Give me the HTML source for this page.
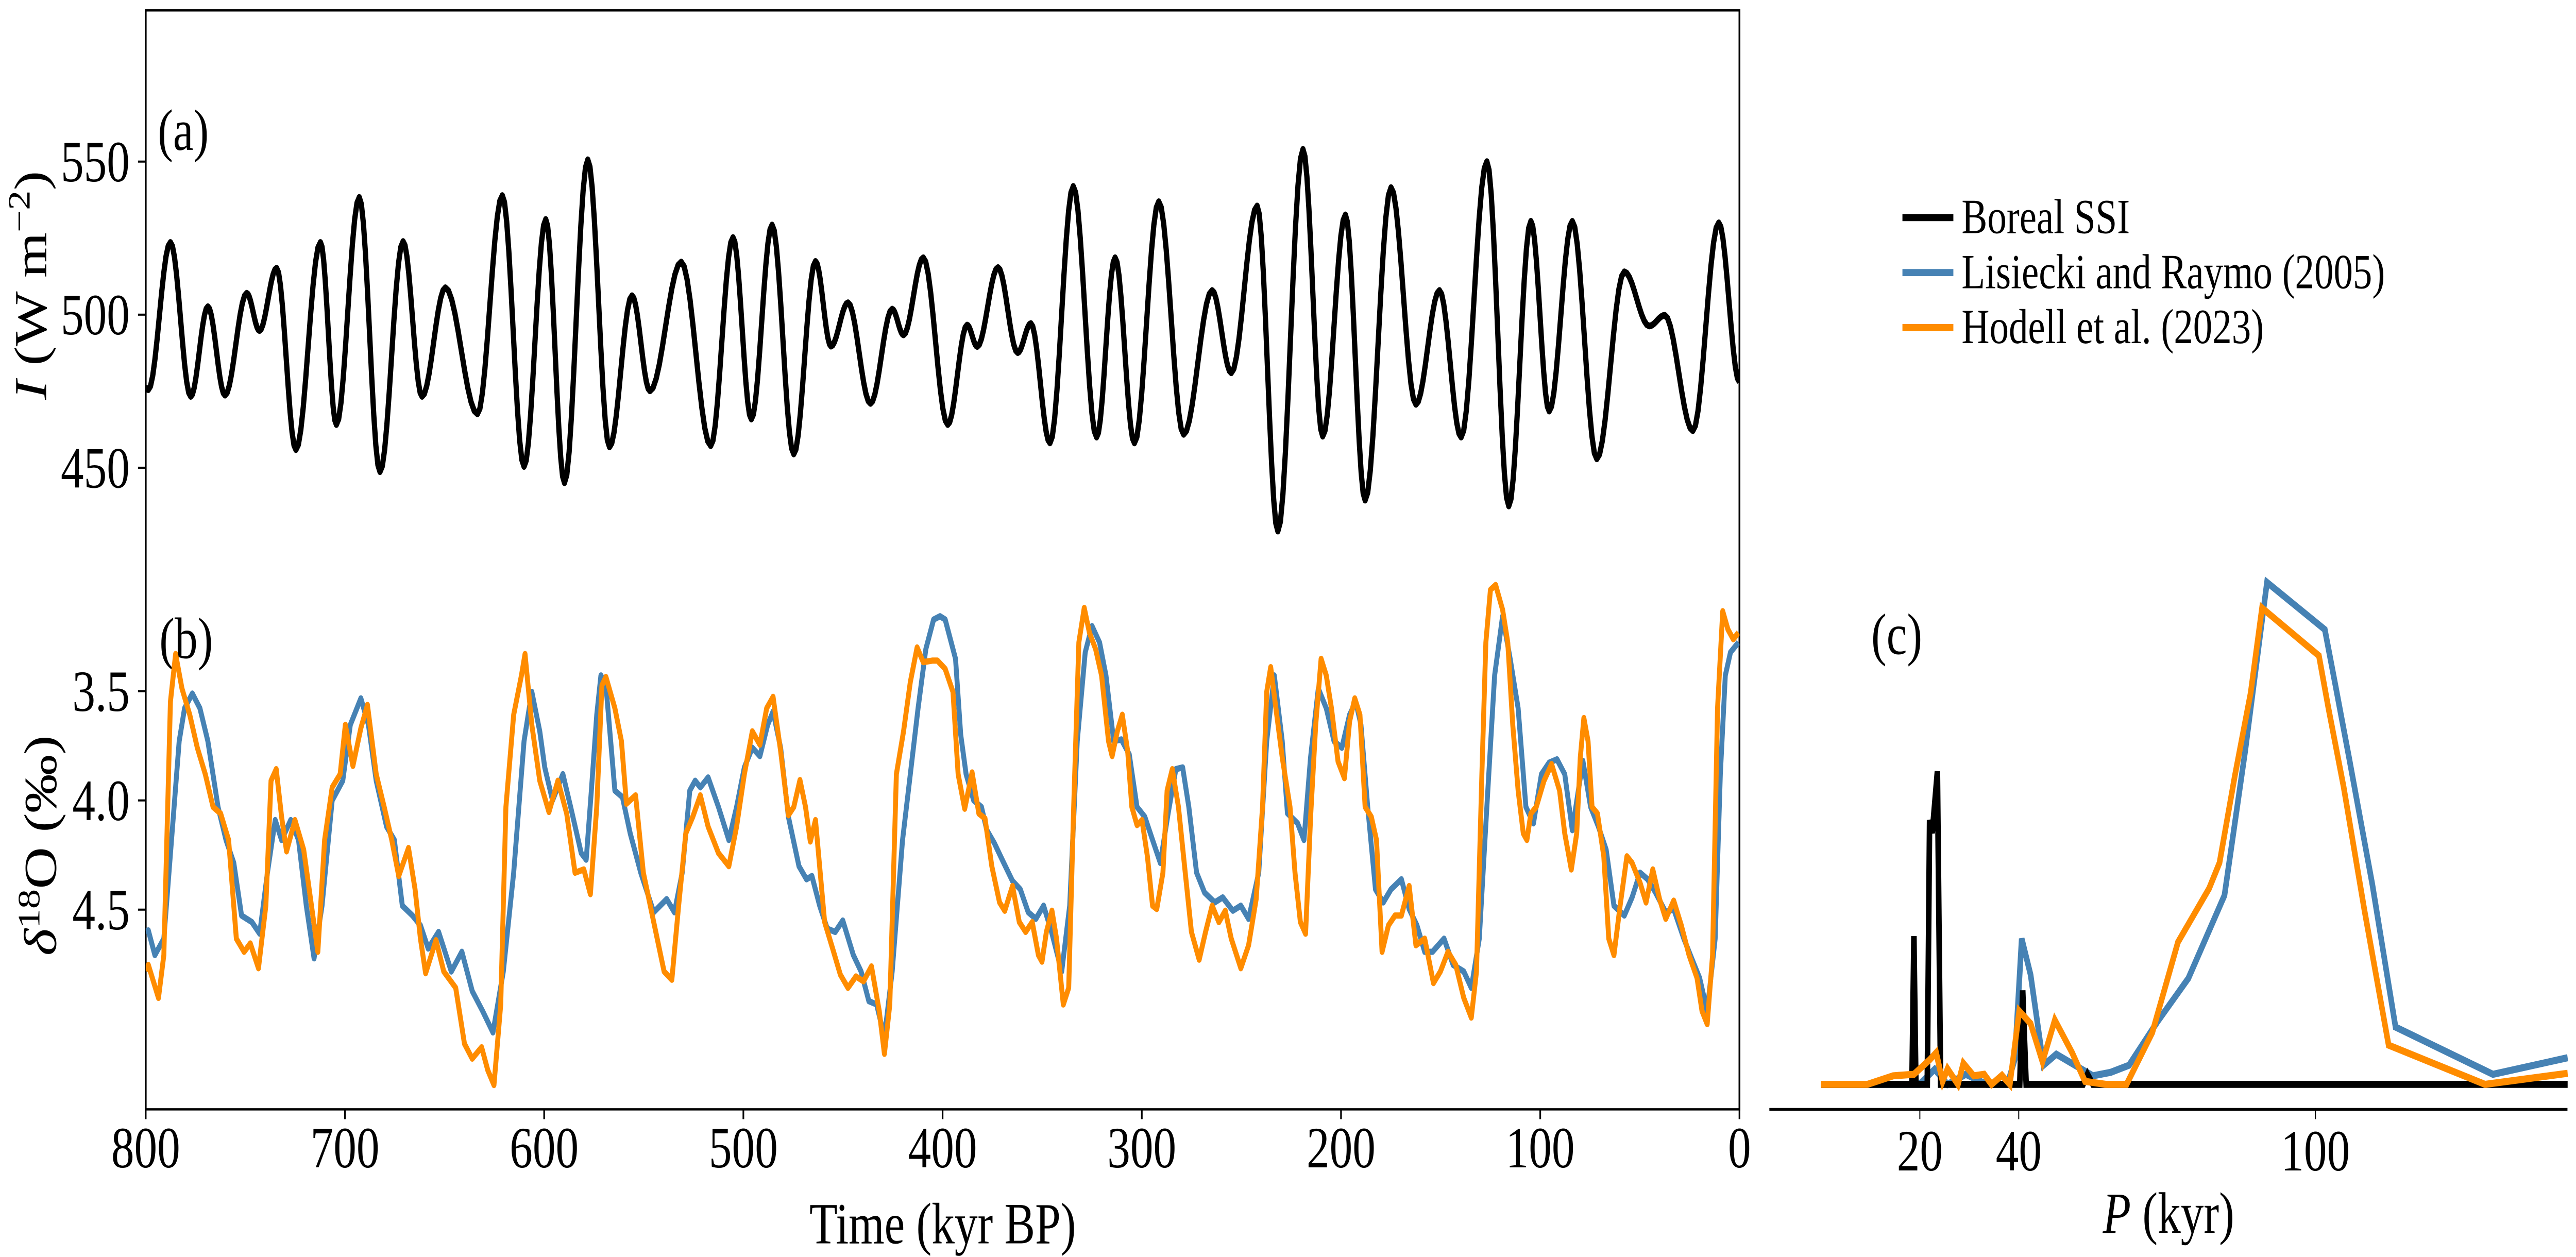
<!DOCTYPE html>
<html><head><meta charset="utf-8">
<style>
html,body{margin:0;padding:0;background:#fff;width:100%;height:100%;overflow:hidden;}
svg{display:block;width:100vw;height:100vh;}
text{font-family:"Liberation Serif",serif;fill:#000;}
</style></head><body>
<svg id="fig" xmlns="http://www.w3.org/2000/svg" viewBox="0 0 1568 603.6" preserveAspectRatio="none">
<defs><clipPath id="clipAB"><rect x="88.7" y="5" width="970.1" height="527.7"/></clipPath></defs>
<rect x="0" y="0" width="1568" height="603.6" fill="#fff"/>
<g id="gridA"></g>
<g id="gridC"></g>
<text x="96" y="72" font-size="28">(a)</text>
<text x="97" y="316" font-size="28">(b)</text>
<text x="1139" y="314" font-size="28">(c)</text>
<text transform="translate(28,137) rotate(-90)" text-anchor="middle" font-size="28"><tspan font-style="italic">I</tspan> (W m<tspan font-size="19" dy="-10">−2</tspan><tspan dy="10">)</tspan></text>
<text transform="translate(34,406) rotate(-90)" text-anchor="middle" font-size="28"><tspan font-style="italic">δ</tspan><tspan font-size="19" dy="-10">18</tspan><tspan dy="10">O (‰)</tspan></text>
<text x="573.8" y="597" text-anchor="middle" font-size="28">Time (kyr BP)</text>
<text x="1320" y="592" text-anchor="middle" font-size="28"><tspan font-style="italic">P</tspan> (kyr)</text>
<g>
<line x1="1158" y1="104.5" x2="1189" y2="104.5" stroke="#000" stroke-width="3.4"/>
<text x="1194" y="112" font-size="23.5">Boreal SSI</text>
<line x1="1158" y1="130.9" x2="1189" y2="130.9" stroke="#4682B4" stroke-width="3.4"/>
<text x="1194" y="138.4" font-size="23.5">Lisiecki and Raymo (2005)</text>
<line x1="1158" y1="157.3" x2="1189" y2="157.3" stroke="#FF8C00" stroke-width="3.4"/>
<text x="1194" y="164.8" font-size="23.5">Hodell et al. (2023)</text>
</g>
<g id="series" clip-path="url(#clipAB)"></g>
<g id="spec"></g>
</svg>
<script>
const timeTicks=[800,700,600,500,400,300,200,100,0];
const insolTicks=[450,500,550];
const d18oTicks=[3.5,4.0,4.5];
const periodTicks=[20,40,100];

const insolTime=[800,798.7,787.6,777.4,768.8,760.2,749.3,742.9,734.3,724.6,712.3,704.3,692.8,682.4,670.8,661.3,649.6,633.5,621.0,610.1,599.2,589.8,578.1,567.2,555.9,546.9,531.2,516.4,505.2,496.0,485.6,474.7,463.8,456.0,447.5,436.2,425.3,419.6,409.7,397.4,387.7,382.6,372.2,362.3,355.7,346.1,334.4,322.7,313.4,303.7,291.5,279.0,264.7,255.1,242.1,231.7,219.1,209.2,197.8,187.9,174.9,162.4,150.6,139.7,126.8,115.8,104.7,95.5,83.9,71.6,57.8,45.3,37.5,23.4,10.4,0];
const insolValue=[476,475.5,523.6,473.3,502.6,473.7,507,494.8,515.2,455.9,523.6,464.1,538.3,448.7,523.9,473.3,508.8,467.6,538.9,450.4,531.1,445.1,550.6,456.8,506.2,475.1,517.2,457.2,525.2,465.9,529.3,454.5,517.4,489.7,503.9,471,501.8,493.4,518.6,464.1,496.6,489.6,515.4,487.6,497.1,458.1,541.9,460,518.6,458.1,536.9,460.9,507.9,481,535.5,429.3,554,460.3,532.6,439.4,541.5,470.7,507.9,460,550,437.5,530.5,468.5,530.5,452.9,514,496.3,499.8,462.1,530,478];

const lrTime=[800,798.7,795.4,790.9,783.2,780.5,776.6,772.8,768.8,763.7,759.7,755.8,751.9,746.7,742.8,738.9,735.0,731.8,727.2,723.3,719.4,715.5,711.5,706.4,701.1,697.3,692.0,688.2,684.3,679.1,675.2,671.2,666.1,662.1,658.2,653.0,646.6,641.3,636.1,630.9,625.7,620.5,615.3,610.1,606.2,602.2,599.7,595.8,590.6,586.7,581.4,578.9,576.3,573.6,571.5,569.0,564.5,560.7,556.8,551.5,545.0,538.5,534.6,530.7,526.9,524.2,521.6,517.7,512.5,507.3,503.4,499.5,495.5,491.7,487.8,485.1,481.3,477.4,472.1,468.3,465.6,461.7,457.9,453.9,450.1,444.8,440.9,437.0,433.1,429.2,425.3,420.1,416.2,412.3,408.4,404.5,401.3,398.7,393.5,390.9,388.2,384.4,380.5,377.8,374.0,370.1,364.9,361.0,357.0,353.2,349.3,345.3,340.2,336.2,332.4,328.4,325.0,321.2,318.0,314.1,310.3,306.3,302.4,298.5,294.6,290.7,286.8,282.9,279.5,276.4,272.5,268.5,263.4,259.4,254.3,250.3,246.4,241.3,237.3,233.5,229.5,226.9,221.8,218.6,215.3,211.4,207.4,203.5,199.6,195.7,192.6,190.0,186.6,182.7,178.8,174.9,169.7,165.8,161.9,158.0,154.1,148.3,143.7,138.4,134.6,130.6,126.8,122.9,118.9,115.1,111.1,107.2,103.4,99.4,95.5,91.6,87.7,83.9,78.6,74.7,70.8,66.9,63.0,57.8,53.9,49.9,46.1,42.1,37.0,33.0,27.9,24.0,20.0,16.2,12.2,9.6,7.1,4.5,0.5];
const lrValue=[4.6,4.595,4.708,4.633,3.729,3.578,3.511,3.578,3.729,4.030,4.181,4.286,4.527,4.557,4.610,4.331,4.090,4.181,4.090,4.181,4.482,4.723,4.482,4.0,3.910,3.654,3.533,3.654,3.910,4.120,4.181,4.482,4.527,4.572,4.678,4.602,4.783,4.693,4.873,4.964,5.062,4.783,4.331,3.729,3.503,3.684,3.849,4.0,3.880,4.030,4.241,4.271,3.955,3.608,3.428,3.473,3.955,3.985,4.151,4.331,4.512,4.452,4.512,4.331,3.955,3.910,3.940,3.895,4.030,4.181,4.030,3.849,3.759,3.797,3.654,3.593,3.759,4.075,4.301,4.361,4.346,4.482,4.587,4.602,4.550,4.708,4.783,4.919,4.934,5.084,4.783,4.181,3.880,3.578,3.307,3.172,3.157,3.172,3.352,3.699,3.880,4.0,4.030,4.136,4.196,4.271,4.369,4.407,4.512,4.542,4.482,4.602,4.783,4.482,3.729,3.322,3.202,3.277,3.428,3.729,3.721,3.789,4.030,4.075,4.181,4.286,4.060,3.857,3.849,4.030,4.331,4.422,4.467,4.444,4.505,4.482,4.542,4.331,3.729,3.428,3.729,4.059,4.105,4.181,3.804,3.488,3.578,3.729,3.759,3.608,3.548,3.654,4.030,4.407,4.467,4.407,4.361,4.497,4.572,4.693,4.693,4.633,4.753,4.783,4.858,4.633,4.030,3.428,3.157,3.352,3.578,4.030,4.105,3.880,3.827,3.812,3.880,4.136,3.819,4.030,4.120,4.226,4.482,4.527,4.444,4.331,4.361,4.422,4.512,4.497,4.633,4.723,4.813,4.964,4.633,3.880,3.428,3.322,3.277];

const hoTime=[800,798.7,793.6,790.9,787.6,785.0,781.8,777.9,774.1,770.1,766.2,762.4,758.4,754.5,750.6,747.5,743.4,739.7,737.1,734.5,731.8,729.3,725.1,720.7,716.8,713.6,710.2,706.4,702.4,699.8,696.0,692.0,688.7,684.3,680.3,676.5,673.0,668.1,664.8,662.1,659.5,654.3,650.4,644.4,640.0,636.1,631.4,628.3,625.2,621.8,619.2,615.3,611.4,609.6,606.2,602.2,597.6,593.1,588.7,584.5,580.1,576.8,573.6,571.0,569.0,564.5,561.2,558.7,554.1,550.2,545.0,539.8,535.9,532.5,528.9,525.4,521.6,517.7,512.5,507.3,503.4,499.5,495.5,491.7,488.3,485.1,481.3,477.4,474.7,471.6,468.8,466.4,463.8,459.2,455.2,451.3,447.5,443.5,439.7,435.7,431.8,429.2,426.5,423.2,419.6,416.2,412.8,409.7,405.0,402.6,398.7,394.8,392.2,388.9,385.2,381.8,378.7,375.3,371.4,368.8,364.9,361.5,358.3,355.0,351.9,350.1,347.9,345.1,342.8,339.4,336.7,334.2,331.6,328.9,326.3,323.2,320.2,316.7,314.9,312.3,309.8,307.1,305.0,302.4,299.9,297.2,294.6,292.5,289.4,287.3,284.7,281.6,278.2,275.1,271.2,268.0,264.7,261.3,258.1,255.1,250.3,246.4,242.6,239.4,237.3,235.3,232.7,229.5,225.6,223.1,220.4,217.8,215.2,212.7,210.0,207.4,204.8,201.5,198.3,195.7,193.1,190.5,187.9,184.8,182.2,179.4,176.2,172.9,169.7,165.8,162.4,158.0,153.6,150.1,146.3,142.4,138.4,134.6,132.0,129.3,127.3,125.0,122.4,118.9,116.3,113.8,111.1,108.5,106.7,104.7,102.0,98.1,94.3,90.3,87.7,84.4,81.7,79.9,78.1,76.0,74.0,71.3,68.1,65.6,63.0,59.9,56.5,53.9,49.9,46.9,43.5,40.1,37.0,33.0,29.2,25.3,21.3,18.8,16.2,13.5,11.0,8.4,5.8,3.1,0.5];
const hoValue=[4.78,4.753,4.904,4.708,3.548,3.330,3.488,3.608,3.759,3.880,4.030,4.060,4.181,4.633,4.693,4.655,4.768,4.482,3.910,3.857,4.075,4.233,4.090,4.226,4.482,4.693,4.181,3.940,3.880,3.654,3.842,3.669,3.563,3.880,4.030,4.181,4.346,4.218,4.407,4.633,4.791,4.640,4.783,4.858,5.114,5.182,5.130,5.235,5.303,4.934,4.030,3.608,3.428,3.330,3.654,3.910,4.053,3.910,4.060,4.331,4.316,4.429,4.030,3.473,3.435,3.578,3.729,4.015,3.977,4.331,4.557,4.783,4.821,4.482,4.151,4.075,3.977,4.120,4.241,4.301,4.120,3.880,3.684,3.745,3.578,3.526,3.774,4.068,4.030,3.907,4.030,4.188,4.090,4.557,4.678,4.798,4.858,4.806,4.828,4.760,4.964,5.160,4.934,3.880,3.684,3.458,3.300,3.367,3.360,3.360,3.398,3.503,3.880,4.038,3.872,4.060,4.083,4.301,4.467,4.505,4.392,4.557,4.602,4.557,4.708,4.738,4.602,4.505,4.633,4.934,4.858,4.030,3.277,3.119,3.232,3.307,3.428,3.729,3.797,3.684,3.608,3.774,4.030,4.113,4.090,4.256,4.482,4.497,4.331,3.955,3.857,4.030,4.331,4.602,4.729,4.602,4.482,4.557,4.505,4.633,4.768,4.663,4.452,4.030,3.503,3.390,3.578,3.804,4.030,4.331,4.557,4.610,4.063,3.654,3.352,3.428,3.578,3.822,3.898,3.639,3.533,3.608,4.030,4.075,4.181,4.693,4.572,4.527,4.527,4.392,4.663,4.633,4.836,4.783,4.693,4.753,4.904,4.994,4.783,3.880,3.277,3.036,3.014,3.127,3.277,3.654,3.955,4.151,4.181,4.060,4.030,3.910,3.834,3.955,4.151,4.316,4.151,3.804,3.623,3.729,4.030,4.060,4.256,4.633,4.708,4.482,4.256,4.286,4.377,4.467,4.316,4.452,4.542,4.459,4.572,4.708,4.813,4.964,5.024,4.708,3.578,3.134,3.217,3.262,3.232];

const ssiPeriod=[0,18.4,18.8,19.2,21.5,21.97,22.5,23.55,24.2,40.2,40.8,41.5,53,53.9,55,151];
const ssiPower=[0,0,0.295,0,0,0.526,0.5,0.623,0,0,0.187,0,0,0.02,0,0];
const lrPeriod=[0,19.9,23.0,25.6,29.3,33.5,37.7,39.2,40.6,42.4,45.0,47.6,55.0,58.6,62.3,68.0,74.3,81.6,85.8,90.2,101.9,104.2,106.8,111.5,116.2,135.9,151.0];
const lrPower=[0,0,0.03,0,0.02,0,0,0.05,0.29,0.218,0.038,0.06,0.017,0.024,0.038,0.124,0.211,0.376,0.664,0.999,0.905,0.786,0.650,0.398,0.114,0.02,0.053];
const hoPeriod=[0,9.4,14.6,18.8,22.0,23.3,24.6,25.6,27.7,28.8,30.9,33.0,34.5,36.6,38.2,40.1,42.4,44.8,47.3,50.8,53.4,57.6,61.8,67.0,72.2,78.5,80.6,83.7,86.9,89.2,100.7,102.6,105.7,109.9,114.8,134.3,151.0];
const hoPower=[0,0,0.017,0.02,0.049,0.063,0.006,0.031,0,0.042,0.017,0.02,0,0.018,0,0.146,0.121,0.045,0.128,0.063,0.006,0,0,0.103,0.283,0.39,0.441,0.614,0.779,0.948,0.853,0.75,0.592,0.347,0.078,0,0.022];

const NS='http://www.w3.org/2000/svg';
function xT(t){return 88.7+(800-t)*970.1/800;}
function yI(v){return 151.1-(v-500)*1.47;}
function yD(d){return 331.9+(d-3.5)*104.9;}
function xP(p){return 1108.4+p*3.01;}
function yPow(w){return 520.7-w*241.3;}
function mk(tag,attrs,parent){const e=document.createElementNS(NS,tag);for(const k in attrs)e.setAttribute(k,attrs[k]);parent.appendChild(e);return e;}

const gA=document.getElementById('gridA');
const frame=mk('rect',{x:88.7,y:5,width:970.1,height:527.7,fill:'none',stroke:'#000','stroke-width':1.1},gA);


timeTicks.forEach(t=>{
  const l=mk('line',{x1:xT(t),x2:xT(t),y1:532.7,y2:537.4,stroke:'#000','stroke-width':1},gA);
  
  
  const tx=mk('text',{x:xT(t),y:560.5,'text-anchor':'middle','font-size':28},gA);
  tx.textContent=String(t);
  
  
});
insolTicks.forEach(v=>{
  const l=mk('line',{x1:84,x2:88.7,y1:yI(v),y2:yI(v),stroke:'#000','stroke-width':1},gA);
  
  
  const tx=mk('text',{x:79,y:yI(v)+9.5,'text-anchor':'end','font-size':28},gA);
  tx.textContent=String(v);
  
  
});
d18oTicks.forEach(v=>{
  const l=mk('line',{x1:84,x2:88.7,y1:yD(v),y2:yD(v),stroke:'#000','stroke-width':1},gA);
  
  
  const tx=mk('text',{x:79,y:yD(v)+9.5,'text-anchor':'end','font-size':28},gA);
  tx.textContent=v.toFixed(1);
  
  
});

const gC=document.getElementById('gridC');
const sp=mk('line',{x1:1077,x2:1562.8,y1:532.7,y2:532.7,stroke:'#000','stroke-width':1.3},gC);


periodTicks.forEach(p=>{
  const l=mk('line',{x1:xP(p),x2:xP(p),y1:532.7,y2:537.4,stroke:'#000','stroke-width':0.6},gC);
  
  
  const tx=mk('text',{x:xP(p),y:562,'text-anchor':'middle','font-size':28},gC);
  tx.textContent=String(p);
  
  
});

function cosPath(xs,ys,fx,fy){
  let d='M'+fx(xs[0]).toFixed(2)+','+fy(ys[0]).toFixed(2);
  for(let i=0;i<xs.length-1;i++){
    for(let k=1;k<=10;k++){
      const s=k/10;const x=xs[i]+(xs[i+1]-xs[i])*s;const y=ys[i]+(ys[i+1]-ys[i])*(1-Math.cos(Math.PI*s))/2;
      d+='L'+fx(x).toFixed(2)+','+fy(y).toFixed(2);
    }
  }
  return d;
}
function linPath(xs,ys,fx,fy){
  return xs.map((x,i)=>(i?'L':'M')+fx(x).toFixed(2)+','+fy(ys[i]).toFixed(2)).join('');
}
const gS=document.getElementById('series');
const pI=mk('path',{d:cosPath(insolTime,insolValue,xT,yI),fill:'none',stroke:'#000','stroke-width':3.2,'stroke-linejoin':'round'},gS);


const pL=mk('path',{d:linPath(lrTime,lrValue,xT,yD),fill:'none',stroke:'#4682B4','stroke-width':3.0,'stroke-linejoin':'round'},gS);


const pH=mk('path',{d:linPath(hoTime,hoValue,xT,yD),fill:'none',stroke:'#FF8C00','stroke-width':3.0,'stroke-linejoin':'round'},gS);



const gP=document.getElementById('spec');
const sL=mk('path',{d:linPath(lrPeriod,lrPower,xP,yPow),fill:'none',stroke:'#4682B4','stroke-width':3.4},gP);


const sB=mk('path',{d:linPath(ssiPeriod,ssiPower,xP,yPow),fill:'none',stroke:'#000','stroke-width':3.4},gP);


const sH=mk('path',{d:linPath(hoPeriod,hoPower,xP,yPow),fill:'none',stroke:'#FF8C00','stroke-width':3.4},gP);


</script>
</body></html>
